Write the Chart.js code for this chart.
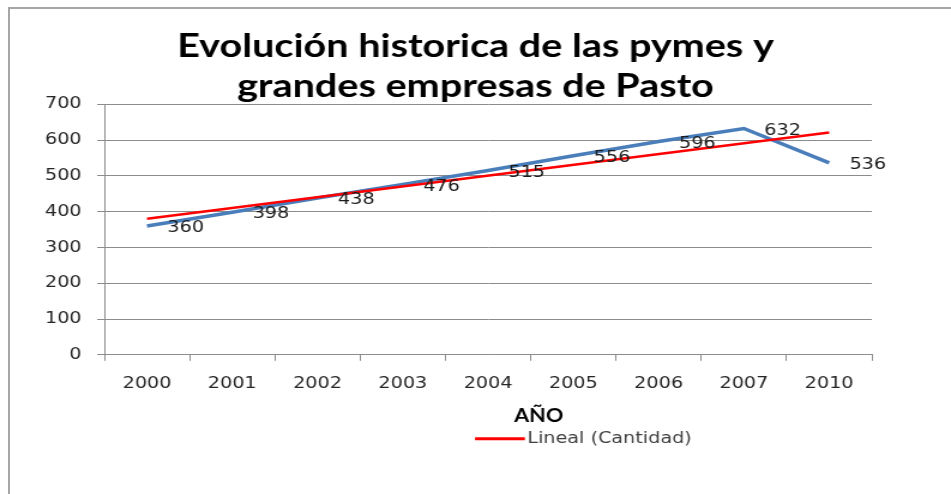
<!DOCTYPE html>
<html>
<head>
<meta charset="utf-8">
<script src="https://cdn.jsdelivr.net/npm/chart.js@4.4.1/dist/chart.umd.min.js"></script>
<style>
body{margin:0;background:#fff;width:951px;height:494px;overflow:hidden;position:relative}
#frame{position:absolute;left:8px;top:7px;right:-4px;bottom:-4px;border-left:2px solid #a6a6a6;border-top:2px solid #a6a6a6}
/* the original picture is stretched sideways, so the canvas is too */
#wrap{position:absolute;left:0;top:0;width:793px;height:494px;transform:scaleX(1.1992);transform-origin:0 0}
</style>
</head>
<body>
<div id="frame"></div>
<div id="wrap"><canvas id="chart" width="793" height="494"></canvas></div>
<script>

const years = ["2000","2001","2002","2003","2004","2005","2006","2007","2010"]
const cantidad = [360,398,438,476,515,556,596,632,536]
// linea de tendencia: solo los extremos
const tendencia = [380,null,null,null,null,null,null,null,621]
const yMin = 0
const yMax = 700
const yStep = 100

const tickFont = {family:"DejaVu Sans",size:16}

/* etiquetas de valor junto a cada punto */
const valueLabels = {
id:"valueLabels",
afterDatasetsDraw(chart){
const ctx = chart.ctx
const meta = chart.getDatasetMeta(0)
ctx.save()
ctx.font = "16px 'DejaVu Sans'"
ctx.fillStyle = "#1a1a1a"
ctx.textAlign = "left"
ctx.textBaseline = "middle"
meta.data.forEach((p,i)=>{
ctx.fillText(String(cantidad[i]), p.x+17, p.y+2)
})
ctx.restore()
}
}

/* titulo del eje X y leyenda, corridos a la derecha como en el original */
const bottomTexts = {
id:"bottomTexts",
afterDraw(chart){
const ctx = chart.ctx
const a = chart.chartArea
ctx.save()
ctx.font = "bold 18px Lato"
ctx.fillStyle = "#000"
ctx.textAlign = "center"
ctx.textBaseline = "middle"
ctx.fillText("AÑO", a.left + a.width*0.566, a.bottom + 61)

const ds = chart.data.datasets[1]
const ly = a.bottom + 84
const x0 = a.left + a.width*0.483
const x1 = a.left + a.width*0.548
ctx.strokeStyle = ds.borderColor
ctx.lineWidth = 3
ctx.beginPath()
ctx.moveTo(x0,ly)
ctx.lineTo(x1,ly)
ctx.stroke()
ctx.font = "16px 'DejaVu Sans'"
ctx.fillStyle = "#404040"
ctx.textAlign = "left"
ctx.fillText(ds.label, x1+2, ly)
ctx.restore()
}
}

new Chart(document.getElementById("chart"),{
type:"line",
data:{
labels:years,
datasets:[
{
label:"Cantidad",
data:cantidad,
borderColor:"#4a7ebb",
backgroundColor:"#4a7ebb",
borderWidth:3.5,
pointRadius:0,
tension:0,
order:1
},
{
label:"Lineal (Cantidad)",
data:tendencia,
borderColor:"#ff0000",
backgroundColor:"#ff0000",
borderWidth:2.5,
pointRadius:0,
spanGaps:true,
order:0
}
]
},
options:{
responsive:false,
animation:false,
layout:{padding:{left:0,right:0,top:0,bottom:88}},
plugins:{
legend:{display:false},
tooltip:{enabled:false},
title:{
display:true,
text:["Evolución historica de las pymes y","grandes empresas de Pasto"],
color:"#000",
font:{family:"Lato",size:33,weight:"bold",lineHeight:1.2},
padding:{top:27,bottom:-2}
}
},
scales:{
x:{
offset:true,
grid:{offset:true,drawOnChartArea:false,color:"#8c8c8c",tickLength:6},
border:{color:"#8c8c8c"},
ticks:{maxRotation:0,autoSkip:false,color:"#262626",font:tickFont,padding:13}
},
y:{
min:yMin,
max:yMax,
ticks:{stepSize:yStep,color:"#262626",font:tickFont,padding:13},
grid:{color:"#8c8c8c",tickLength:6},
border:{color:"#8c8c8c"},
afterFit(s){ s.width = 87 }
},
pad:{
position:"right",
display:true,
grid:{display:false},
border:{display:false},
ticks:{display:false},
afterFit(s){ s.width = 66 }
}
}
},
plugins:[valueLabels,bottomTexts]
})

</script>
</body>
</html>
